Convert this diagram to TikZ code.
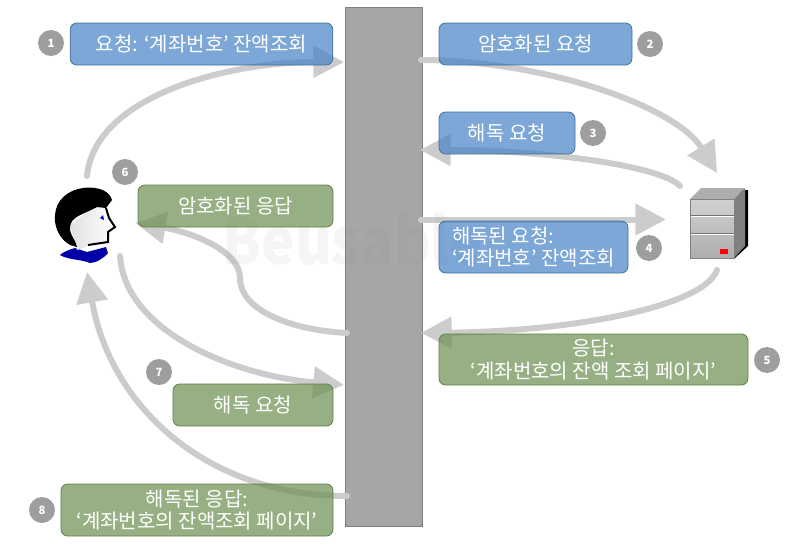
\documentclass[tikz,border=0pt]{standalone}
\usepackage{fontspec}
\setmainfont{Noto Sans CJK KR}
\usetikzlibrary{arrows.meta}
\definecolor{reqblue}{HTML}{4481C4}
\definecolor{reqedge}{HTML}{41719C}
\definecolor{resgreen}{HTML}{6A8F50}
\definecolor{resedge}{HTML}{5E7F4A}
\definecolor{wallgray}{HTML}{A6A6A6}
\definecolor{walledge}{HTML}{7F7F7F}
\definecolor{flowgray}{HTML}{CCCCCC}
\tikzset{
	msgbox/.style={draw,line width=.6pt,rounded corners=5pt,text=white,fill opacity=.7,text opacity=1,font=\fontsize{15}{17}\selectfont,inner sep=0pt},
	req/.style={msgbox,fill=reqblue,draw=reqedge},
	res/.style={msgbox,fill=resgreen,draw=resedge},
	num/.style={circle,fill=black!38,text=white,minimum size=19.5pt,inner sep=0pt,font=\fontsize{8.5}{10}\bfseries\selectfont},
	flow/.style={line width=4.5pt,line cap=round,draw=flowgray,-{Triangle[length=23pt,width=23pt]}}
}
\begin{document}
\begin{tikzpicture}[x=.75pt,y=-.75pt]
\useasboundingbox (0,0) rectangle (800,550);
\node[fill=wallgray,draw=walledge,minimum width=57.75pt,minimum height=389.25pt,inner sep=0pt,line width=.6pt] (wall) at (383.5,266.5) {};

\coordinate (p1) at (87,176);
\coordinate (p2) at (717,173);
\coordinate (p3) at (680,186);
\coordinate (p4) at (666,219.5);
\coordinate (p5) at (717,270);
\coordinate (p6) at (135,223);
\coordinate (p7) at (120,256);
\coordinate (p8) at (87,272);
\coordinate (w1) at (344,62);
\coordinate (w2) at (421,60);
\coordinate (w3) at (420,150);
\coordinate (w4) at (421,219.5);
\coordinate (w5) at (421,333);
\coordinate (w6) at (347,333);
\coordinate (w7) at (344,385);
\coordinate (w8) at (347,496);
\draw[flow] (p1) .. controls (95,95) and (230,62) .. (w1);
\draw[flow] (w2) .. controls (540,60) and (675,105) .. (p2);
\draw[flow] (p3) .. controls (660,165) and (540,150) .. (w3);
\draw[flow] (w4)--(p4);
\draw[flow] (p5) .. controls (705,305) and (580,331) .. (w5);
\draw[flow] (w6) .. controls (290,330) and (240,310) .. (240,278) .. controls (240,250) and (190,232) .. (p6);
\draw[flow] (p7) .. controls (125,330) and (230,375) .. (w7);
\draw[flow] (w8) .. controls (205,496) and (110,405) .. (p8);

\node[text=black!45,text opacity=.09,font=\fontsize{42}{46}\bfseries\selectfont,anchor=west,yscale=1.15,transform shape] (mark) at (218,239) {Beusable};

\node[req,minimum width=197pt,minimum height=31.5pt] (b1) at (201.5,44) {요청: ‘계좌번호’ 잔액조회};
\node[req,minimum width=144.75pt,minimum height=31.5pt] (b2) at (535.5,44) {암호화된 요청};
\node[req,minimum width=102pt,minimum height=31.5pt] (b3) at (507,133) {해독 요청};
\node[req,minimum width=141.75pt,minimum height=39pt,align=left] (b4) at (533.5,247) {해독된 요청:\\‘계좌번호’ 잔액조회};
\node[res,minimum width=231.75pt,minimum height=38.25pt,align=center] (b5) at (593.5,359.5) {응답:\\‘계좌번호의 잔액 조회 페이지’};
\node[res,minimum width=146.25pt,minimum height=31.5pt] (b6) at (235.5,206) {암호화된 응답};
\node[res,minimum width=120pt,minimum height=31.5pt] (b7) at (253,405) {해독 요청};
\node[res,minimum width=204pt,minimum height=39pt,align=center] (b8) at (197,510) {해독된 응답:\\‘계좌번호의 잔액조회 페이지’};

\node[num] (n1) at (51,43) {1};
\node[num] (n2) at (650,44) {2};
\node[num] (n3) at (593,133) {3};
\node[num] (n4) at (649,248) {4};
\node[num] (n5) at (767,360) {5};
\node[num] (n6) at (125,172) {6};
\node[num] (n7) at (159,372) {7};
\node[num] (n8) at (42,510) {8};

\fill[blue!65!black] (60,255) .. controls (66,250) and (72,249) .. (75,248)--(87,252)--(106,247)--(108,253) .. controls (104,258) and (96,263) .. (90,263) .. controls (80,259) and (68,260) .. (60,255)--cycle;
\shade[left color=black!12,right color=white] (70,225)--(97,205)--(106,208)--(109,218)--(115,227)--(108,232)--(108,242)--(88,246)--(77,250)--cycle;
\fill[black] (83,188) .. controls (100,186) and (110,192) .. (112,200)--(106,208)--(97,207) .. controls (85,214) and (70,216) .. (70,228) .. controls (70,236) and (76,240) .. (77,247)--(70,245) .. controls (58,238) and (54,225) .. (55,215) .. controls (56,200) and (68,190) .. (83,188)--cycle;
\draw[line width=1.5pt] (106,208)--(109,218)--(115,227)--(108,232)--(108,242)--(88,245);
\fill[blue!80!black] (100,218)--(103,215)--(104,220)--cycle;

\fill[black] (693,258)--(735,258)--(748,246)--(748,190)--(740,190)--(734,252)--(693,252)--cycle;
\fill[black!32] (690,199)--(701,188)--(745,188)--(734,199)--cycle;
\fill[black!50] (734,199)--(745,188)--(745,246)--(734,258)--cycle;
\shade[top color=black!18,bottom color=black!32] (690,199) rectangle (734,258);
\draw[white,line width=.6pt] (690,216.5)--(734,216.5) (690,234.5)--(734,234.5);
\draw[black!55,line width=.6pt] (690,215.5)--(734,215.5) (690,233.5)--(734,233.5);
\draw[black!50,line width=.4pt] (690,199) rectangle (734,258);
\fill[red] (720,249) rectangle (728,254);
\end{tikzpicture}
\end{document}
